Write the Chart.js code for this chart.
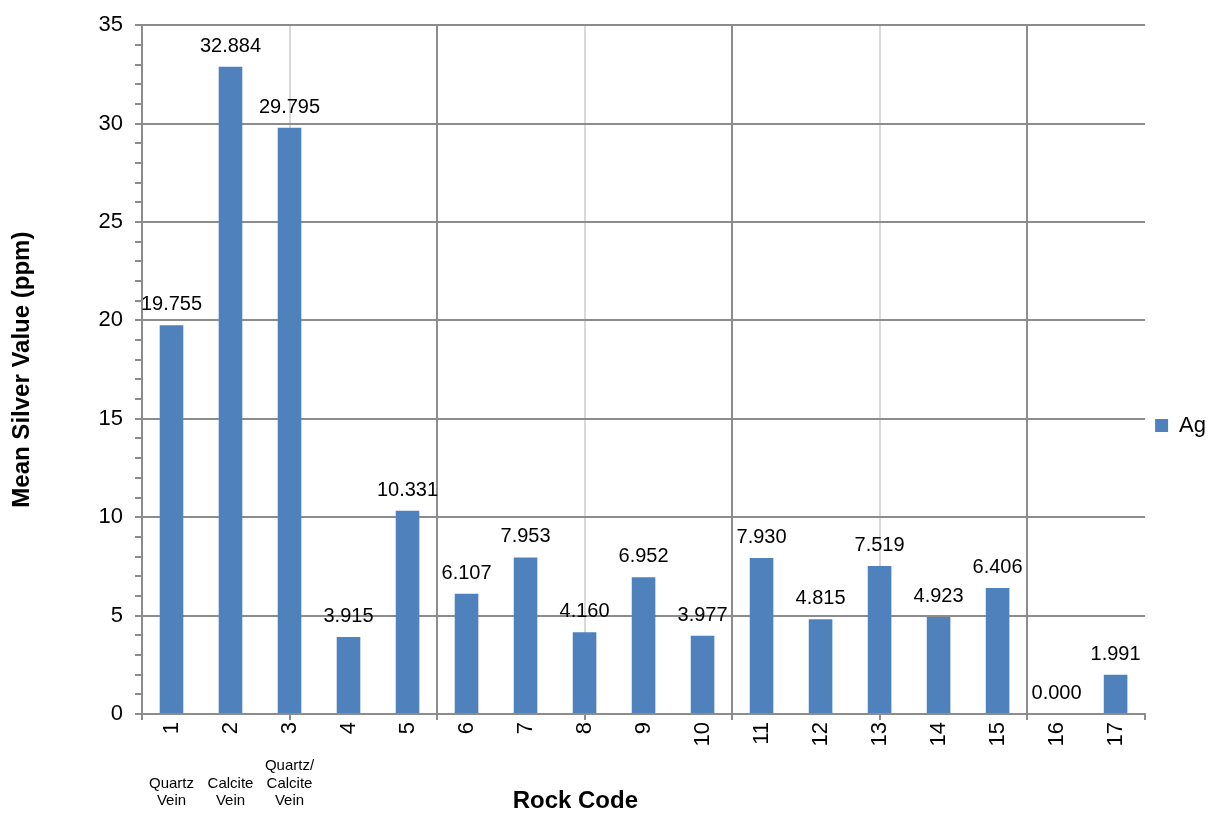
<!DOCTYPE html>
<html><head><meta charset="utf-8">
<script src="https://cdn.jsdelivr.net/npm/chart.js@4"></script>
<style>html,body{margin:0;padding:0;background:#fff}</style>
</head><body>
<canvas id="c" width="1208" height="813"></canvas>
<script>
const categories = ['1','2','3','4','5','6','7','8','9','10','11','12','13','14','15','16','17'];
const agValues = [19.755, 32.884, 29.795, 3.915, 10.331, 6.107, 7.953, 4.160, 6.952, 3.977, 7.930, 4.815, 7.519, 4.923, 6.406, 0.000, 1.991];
const seriesName = 'Ag';
const rockNotes = [['Quartz','Vein'], ['Calcite','Vein'], ['Quartz/','Calcite','Vein']];
const xTitle = 'Rock Code';
const yTitle = 'Mean Silver Value (ppm)';
const yMin = 0, yMax = 35, yMajorStep = 5, yMinorStep = 1;
const xGuideValues = [0, 2.5, 5, 7.5, 10, 12.5, 15, 17];

const FAMILY = '"Liberation Sans", Arial, sans-serif';
const DARK = '#8c8c8c', LIGHT = '#d9d9d9';

const annot = {
  id: 'annot',
  afterDatasetsDraw(chart) {
    const ctx = chart.ctx;
    const meta = chart.getDatasetMeta(0);
    ctx.save();
    ctx.font = '20px ' + FAMILY;
    ctx.fillStyle = '#000';
    ctx.textAlign = 'center';
    ctx.textBaseline = 'alphabetic';
    meta.data.forEach((bar, i) => {
      ctx.fillText(agValues[i].toFixed(3), bar.x, bar.y - 15);
    });
    ctx.restore();
  },
  afterDraw(chart) {
    const ctx = chart.ctx;
    const xs = chart.scales.x;
    const area = chart.chartArea;
    ctx.save();
    ctx.fillStyle = '#000';
    ctx.textAlign = 'center';
    ctx.textBaseline = 'alphabetic';
    ctx.font = '15px ' + FAMILY;
    const baselines = [91, 74, 56];
    rockNotes.forEach((lines, i) => {
      const x = xs.getPixelForValue(i);
      const n = lines.length;
      lines.forEach((t, j) => {
        ctx.fillText(t, x, area.bottom + baselines[n - 1 - j]);
      });
    });
    ctx.font = 'bold 24px ' + FAMILY;
    ctx.fillText(xTitle, area.left + 0.432 * (area.right - area.left), area.bottom + 94);
    ctx.restore();
  }
};

new Chart(document.getElementById('c'), {
  type: 'bar',
  data: {
    labels: categories,
    datasets: [{
      label: seriesName,
      data: agValues,
      backgroundColor: '#4f81bd',
      borderWidth: 0,
      xAxisID: 'x',
      yAxisID: 'y',
      categoryPercentage: 1,
      barPercentage: 0.4
    }]
  },
  options: {
    responsive: false,
    animation: false,
    devicePixelRatio: 1,
    layout: { padding: { top: 22, left: 0, right: -8, bottom: 0 } },
    plugins: {
      legend: {
        position: 'right',
        title: { display: true, text: '', font: { size: 10 }, padding: 2 },
        labels: { boxWidth: 13, boxHeight: 13, color: '#000', font: { size: 22, family: FAMILY }, padding: 10 }
      },
      tooltip: { enabled: false }
    },
    scales: {
      x2: {
        type: 'linear', position: 'bottom', min: 0, max: 17, weight: 0, offset: false,
        afterBuildTicks: s => { s.ticks = xGuideValues.map(v => ({ value: v })); },
        ticks: { display: false },
        grid: {
          offset: false,
          color: c => {
            const v = c.tick ? c.tick.value : -1;
            if (v === 0 || v === 17) return 'rgba(0,0,0,0)';
            return v % 5 === 0 ? DARK : LIGHT;
          },
          tickColor: DARK, lineWidth: 2, tickLength: 6, drawTicks: true
        },
        border: { display: true, color: DARK, width: 2 },
        afterFit: s => { s.height = 6; }
      },
      x: {
        type: 'category', position: 'bottom', weight: 1,
        grid: { display: false, drawTicks: false },
        border: { display: false },
        ticks: { minRotation: 90, maxRotation: 90, autoSkip: false, color: '#000', font: { size: 22, family: FAMILY }, padding: 2 },
        afterFit: s => { s.height = 93; }
      },
      y: {
        min: yMin, max: yMax,
        ticks: {
          stepSize: yMinorStep, autoSkip: false, color: '#000', font: { size: 22, family: FAMILY }, padding: 12,
          callback: v => (v % yMajorStep === 0 ? String(v) : '')
        },
        grid: {
          color: c => (c.tick && c.tick.value % yMajorStep === 0 ? DARK : 'rgba(0,0,0,0)'),
          tickColor: DARK, lineWidth: 2, tickLength: 7
        },
        border: { color: DARK, width: 2 },
        title: { display: true, text: yTitle, color: '#000', font: { size: 24, weight: 'bold', family: FAMILY }, padding: { top: 8, bottom: 0 } },
        afterFit: s => { s.width = 142; }
      }
    }
  },
  plugins: [annot]
});
</script>
</body></html>
